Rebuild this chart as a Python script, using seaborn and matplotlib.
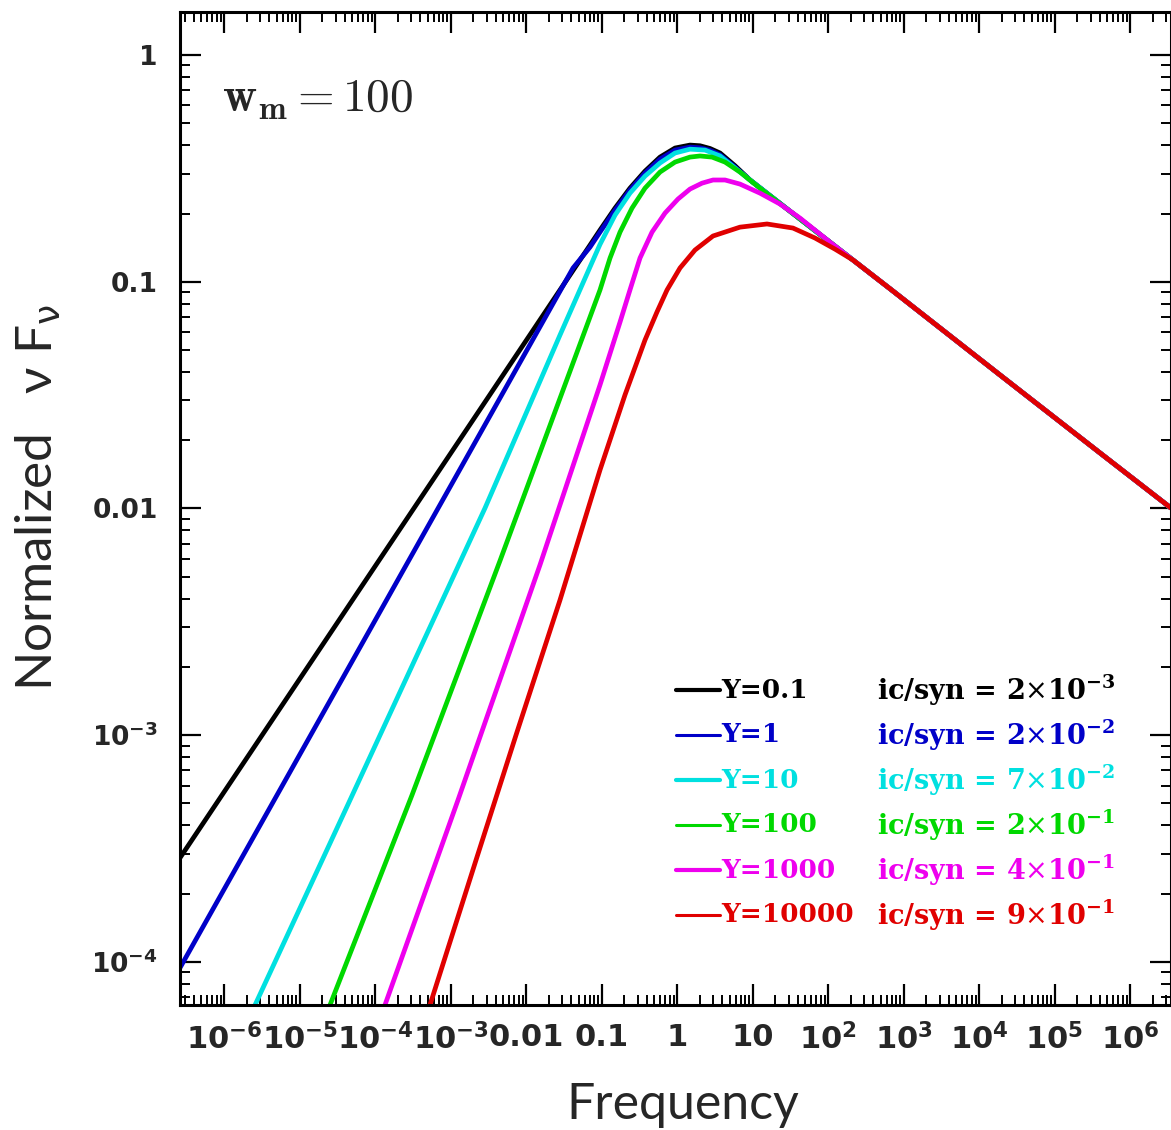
import numpy as np
import pandas as pd
import matplotlib
matplotlib.use("Agg")
import matplotlib.pyplot as plt
import seaborn as sns
from matplotlib.ticker import FixedLocator, LogLocator, NullFormatter

# Values, stored as log10(frequency), log10(nu F_nu)

# shared high-frequency tail, all curves end on it
tail_lognu = [2.331, 2.861, 4.278, 5.603, 6.543]
tail_logf = [-0.904, -1.041, -1.411, -1.755, -1.998]

lognu_y01 = [-6.583, -1.152, -1.020, -0.821, -0.623, -0.424, -0.225, -0.026, 0.172, 0.305,
             0.437, 0.570, 0.768, 0.967, 1.629]
logf_y01 = [-3.541, -0.838, -0.772, -0.675, -0.587, -0.512, -0.450, -0.410, -0.397, -0.400,
            -0.412, -0.432, -0.488, -0.551, -0.723]

lognu_y1 = [-6.583, -1.377, -1.152, -1.020, -0.821, -0.623, -0.424, -0.225, -0.026, 0.172,
            0.305, 0.437, 0.570, 0.768, 0.967, 1.629]
logf_y1 = [-4.026, -0.939, -0.847, -0.781, -0.684, -0.595, -0.520, -0.459, -0.419, -0.406,
           -0.409, -0.420, -0.440, -0.494, -0.551, -0.723]

lognu_y10 = [-5.589, -4.331, -2.543, -1.550, -1.219, -1.020, -0.821, -0.623, -0.424, -0.225,
             -0.026, 0.172, 0.371, 0.570, 0.967, 1.629]
logf_y10 = [-4.190, -3.286, -1.998, -1.235, -0.985, -0.835, -0.706, -0.609, -0.534, -0.476,
            -0.432, -0.415, -0.419, -0.445, -0.551, -0.723]

lognu_y100 = [-4.596, -3.510, -2.344, -1.020, -0.887, -0.755, -0.596, -0.424, -0.225, -0.026,
              0.172, 0.305, 0.464, 0.636, 0.834, 1.099, 1.629]
logf_y100 = [-4.190, -3.264, -2.230, -1.036, -0.895, -0.781, -0.675, -0.587, -0.516, -0.472,
             -0.450, -0.445, -0.450, -0.472, -0.516, -0.587, -0.723]

lognu_y1000 = [-3.868, -2.901, -1.815, -1.020, -0.755, -0.623, -0.490, -0.331, -0.159, 0.013,
               0.172, 0.331, 0.477, 0.636, 0.834, 1.099, 1.364, 1.629, 2.026]
logf_y1000 = [-4.190, -3.286, -2.249, -1.455, -1.178, -1.036, -0.895, -0.781, -0.697, -0.635,
              -0.591, -0.565, -0.551, -0.551, -0.569, -0.609, -0.657, -0.719, -0.825]

lognu_y10000 = [-3.272, -2.649, -2.132, -1.550, -1.020, -0.689, -0.424, -0.265, -0.132, 0.040,
                0.238, 0.477, 0.834, 1.192, 1.536, 1.828, 2.093]
logf_y10000 = [-4.190, -3.537, -2.999, -2.404, -1.830, -1.499, -1.257, -1.133, -1.036, -0.939,
               -0.860, -0.798, -0.759, -0.745, -0.763, -0.807, -0.856]

curve_labels = ["Y=0.1", "Y=1", "Y=10", "Y=100", "Y=1000", "Y=10000"]
ratio_labels = ["2", "2", "7", "2", "4", "9"]
ratio_exps = ["-3", "-2", "-2", "-1", "-1", "-1"]
curve_colors = ["#000000", "#0000c8", "#00e0e0", "#00d800", "#ee00ee", "#e00000"]

x_tick_vals = [1e-6, 1e-5, 1e-4, 1e-3, 1e-2, 1e-1, 1, 10, 1e2, 1e3, 1e4, 1e5, 1e6]
x_tick_labels = [r"$\mathbf{10^{-6}}$", r"$\mathbf{10^{-5}}$", r"$\mathbf{10^{-4}}$",
                 r"$\mathbf{10^{-3}}$", "0.01", "0.1", "1", "10", r"$\mathbf{10^{2}}$",
                 r"$\mathbf{10^{3}}$", r"$\mathbf{10^{4}}$", r"$\mathbf{10^{5}}$",
                 r"$\mathbf{10^{6}}$"]
y_tick_vals = [1e-4, 1e-3, 1e-2, 0.1, 1]
y_tick_labels = [r"$\mathbf{10^{-4}}$", r"$\mathbf{10^{-3}}$", "0.01", "0.1", "1"]

# build one long table for seaborn
all_lognu = [lognu_y01, lognu_y1, lognu_y10, lognu_y100, lognu_y1000, lognu_y10000]
all_logf = [logf_y01, logf_y1, logf_y10, logf_y100, logf_y1000, logf_y10000]
frames = []
for lab, lx, ly in zip(curve_labels, all_lognu, all_logf):
    frames.append(pd.DataFrame({"freq": 10.0 ** np.array(lx + tail_lognu),
                                "flux": 10.0 ** np.array(ly + tail_logf),
                                "curve": lab}))
df = pd.concat(frames, ignore_index=True)

sns.set_style("ticks")
plt.rcParams["font.family"] = ["DejaVu Sans"]
plt.rcParams["mathtext.fontset"] = "dejavusans"

W, H = 1171, 1130
fig = plt.figure(figsize=(W / 100, H / 100), dpi=100)
ax = fig.add_axes([180 / W, 1 - 1005 / H, 991 / W, 993 / H])

sns.lineplot(data=df, x="freq", y="flux", hue="curve", hue_order=curve_labels,
             palette=curve_colors, sort=False, estimator=None, legend=False,
             linewidth=3.4, ax=ax)

ax.set_xscale("log")
ax.set_yscale("log")
ax.set_xlim(10 ** -6.583, 10 ** 6.543)
ax.set_ylim(10 ** -4.19, 10 ** 0.19)

ax.xaxis.set_major_locator(FixedLocator(x_tick_vals))
ax.set_xticklabels(x_tick_labels)
ax.yaxis.set_major_locator(FixedLocator(y_tick_vals))
ax.set_yticklabels(y_tick_labels)
for axis in (ax.xaxis, ax.yaxis):
    axis.set_minor_locator(LogLocator(base=10, subs=np.arange(2, 10), numticks=30))
    axis.set_minor_formatter(NullFormatter())

ax.tick_params(which="both", direction="in", top=True, right=True, color="black")
ax.tick_params(which="major", length=15, width=1.6)
ax.tick_params(which="minor", length=7, width=1.4)
ax.tick_params(axis="x", labelsize=22, pad=13)
ax.tick_params(axis="y", labelsize=19, pad=16)
for lbl in ax.get_xticklabels() + ax.get_yticklabels():
    lbl.set_fontweight("bold")
for sp in ax.spines.values():
    sp.set_linewidth(2.2)
    sp.set_color("black")
ax.set_xlabel("")
ax.set_ylabel("")

# w_m annotation
ax.text((222 - 180) / 991, (1005 - 112) / 993, r"$\mathbf{w}_{\mathbf{m}}=100$",
        transform=ax.transAxes, fontsize=34, math_fontfamily="cm", va="baseline")

# legend: short line + label, then the ic/syn ratio
for i, (lab, col) in enumerate(zip(curve_labels, curve_colors)):
    yy = (1005 - (690 + 45 * i)) / 993
    ax.plot([(676 - 180) / 991, (720 - 180) / 991], [yy, yy], color=col,
            lw=2.2 if i % 2 else 3.0, transform=ax.transAxes, clip_on=False)
    ax.text((721 - 180) / 991, yy, lab, color=col, transform=ax.transAxes,
            fontsize=19, fontweight="bold", family="DejaVu Serif", va="center")
    ax.text((877 - 180) / 991, yy,
            "ic/syn = " + ratio_labels[i] + r"$\times$10$^{\mathbf{" + ratio_exps[i] + "}}$",
            color=col, transform=ax.transAxes, fontsize=19.5, fontweight="bold",
            family="DejaVu Serif", va="center", math_fontfamily="dejavuserif")

# axis titles
fig.text(38 / W, 1 - 497 / H, r"Normalized   ν F$_{\mathrm{\nu}}$", rotation=90,
         fontsize=37, family=["Lato", "DejaVu Sans"], ha="center", va="center")
fig.text(683 / W, 1 - 1105 / H, "Frequency", fontsize=36, family="Lato",
         ha="center", va="center")

fig.savefig("out.png", dpi=100)
